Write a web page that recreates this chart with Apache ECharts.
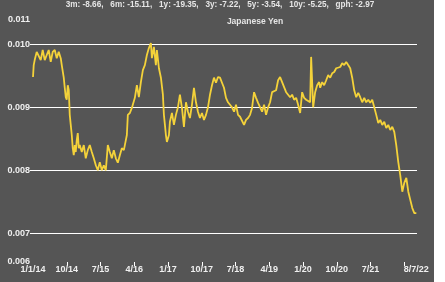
<!DOCTYPE html>
<html>
<head>
<meta charset="utf-8">
<script src="https://cdn.jsdelivr.net/npm/echarts@6/dist/echarts.min.js"></script>
<style>
html,body{margin:0;padding:0;background:#ffffff;}
#chart{width:445px;height:282px;}
</style>
</head>
<body>
<div id="chart"></div>
<script>
// Title texts
const statsLine = '3m: -8.66,   6m: -15.11,   1y: -19.35,   3y: -7.22,   5y: -3.54,   10y: -5.25,   gph: -2.97';
const seriesName = 'Japanese Yen';

// X tick labels (every 9 months from 1 Jan 2014; last tick labelled with final date)
const xTickLabels = ['1/1/14','10/14','7/15','4/16','1/17','10/17','7/18','4/19','1/20','10/20','7/21','8/7/22'];
const xTickMonths = [9,18,27,36,45,54,63,72,81,90,99];

// Y tick values and labels
const yTickValues = [0.007, 0.008, 0.009, 0.010];
const yMinLabel = '0.006';
const yMaxLabel = '0.011';

// Data: months since 1 Jan 2014, and JPY value in USD
const months = [0,0.19,0.45,0.99,1.52,2.06,2.59,3.13,3.66,4.19,4.73,5.26,5.80,6.33,6.86,7.40,7.67,8.20,8.47,8.74,9.00,9.27,9.54,9.80,10.07,10.34,10.60,10.87,11.14,11.40,11.67,11.94,12.21,12.47,13.01,13.54,14.07,14.61,15.14,15.68,16.21,16.75,17.28,17.81,18.35,18.88,19.42,19.95,20.49,21.02,21.55,22.09,22.62,23.16,23.69,24.23,24.76,25.03,25.29,25.83,26.36,27.16,27.70,28.23,28.77,29.30,29.83,30.37,30.90,31.44,31.71,32.24,32.77,33.04,33.58,34.11,34.64,34.91,35.18,35.44,35.71,36.25,36.51,37.05,37.58,38.11,38.65,39.18,39.72,40.25,40.79,41.32,41.85,42.39,42.92,43.46,43.99,44.52,45.06,45.59,46.13,46.66,47.20,47.73,48.26,48.80,49.33,49.87,50.40,50.93,51.47,52.00,52.54,53.07,53.61,54.14,54.67,55.21,55.74,56.28,56.81,57.35,57.88,58.41,58.95,59.48,60.02,60.55,61.09,61.62,62.15,62.69,63.22,63.76,64.29,64.83,65.36,65.89,66.43,66.96,67.50,68.03,68.56,69.10,69.63,70.17,70.70,71.24,71.77,72.30,72.84,73.37,73.91,74.17,74.71,75.24,75.77,76.31,76.58,77.11,77.64,78.18,78.71,79.25,79.78,80.32,80.85,81.38,81.92,82.45,82.99,83.52,84.05,84.59,85.12,85.66,86.19,86.73,87.26,87.79,88.33,88.86,89.40,89.93,90.46,91.00,91.53,92.07,92.60,93.14,93.67,94.20,94.74,95.27,95.81,96.34,96.87,97.41,97.94,98.48,99.01,99.55,100.08,100.61,101.15,101.68,102.22];
const values = [0.00948,0.00967,0.00975,0.00988,0.00988,0.00975,0.00991,0.00975,0.00983,0.00991,0.00972,0.00988,0.00991,0.00978,0.00988,0.00978,0.00967,0.00947,0.00931,0.00916,0.00912,0.00935,0.00927,0.00888,0.00872,0.00856,0.00835,0.00824,0.00840,0.00829,0.00848,0.00859,0.00835,0.00840,0.00829,0.00840,0.00819,0.00832,0.00840,0.00829,0.00819,0.00808,0.00800,0.00813,0.00800,0.00808,0.00800,0.00840,0.00829,0.00819,0.00832,0.00819,0.00812,0.00824,0.00835,0.00832,0.00848,0.00856,0.00888,0.00891,0.00899,0.00915,0.00935,0.00916,0.00940,0.00959,0.00967,0.00983,0.00994,0.01002,0.00978,0.00996,0.00967,0.00991,0.00962,0.00947,0.00920,0.00888,0.00872,0.00856,0.00845,0.00856,0.00877,0.00891,0.00872,0.00888,0.00900,0.00920,0.00899,0.00869,0.00908,0.00893,0.00883,0.00904,0.00931,0.00908,0.00893,0.00883,0.00891,0.00880,0.00888,0.00900,0.00920,0.00935,0.00947,0.00939,0.00948,0.00947,0.00939,0.00931,0.00915,0.00908,0.00904,0.00900,0.00893,0.00904,0.00888,0.00885,0.00883,0.00872,0.00880,0.00883,0.00888,0.00899,0.00924,0.00915,0.00907,0.00904,0.00893,0.00904,0.00888,0.00900,0.00908,0.00924,0.00927,0.00927,0.00943,0.00948,0.00940,0.00932,0.00924,0.00920,0.00916,0.00920,0.00912,0.00915,0.00904,0.00891,0.00924,0.00915,0.00912,0.00915,0.00908,0.00980,0.00900,0.00924,0.00935,0.00940,0.00931,0.00940,0.00935,0.00943,0.00951,0.00947,0.00954,0.00956,0.00962,0.00959,0.00964,0.00970,0.00967,0.00972,0.00967,0.00962,0.00947,0.00927,0.00916,0.00923,0.00916,0.00908,0.00915,0.00908,0.00912,0.00907,0.00912,0.00900,0.00888,0.00875,0.00880,0.00872,0.00877,0.00867,0.00872,0.00864,0.00869,0.00861,0.00840,0.00813,0.00792,0.00766,0.00780,0.00788,0.00766,0.00753,0.00740,0.00732,0.00732];

const yMin = 0.006544, yMax = 0.010386, xMax = 102.4;
const font = "'Liberation Sans',Arial,sans-serif";
const textColor = '#f0f0f0';
const titleColor = '#e6e6e6';

const chart = echarts.init(document.getElementById('chart'), null, {renderer: 'canvas'});
const lastIdx = xTickLabels.length - 1;
chart.setOption({
  backgroundColor: '#555555',
  animation: false,
  title: [
    {text: statsLine, left: 220, top: 0, padding: 0, textAlign: 'center',
     textStyle: {color: titleColor, fontSize: 8.2, fontWeight: 'bold', fontFamily: font, lineHeight: 10}},
    {text: seriesName, left: 255, top: 17, padding: 0, textAlign: 'center',
     textStyle: {color: titleColor, fontSize: 8.5, fontWeight: 'bold', fontFamily: font, lineHeight: 10}}
  ],
  graphic: [
    {type: 'rect', right: 0, top: 0, shape: {width: 11, height: 282}, style: {fill: '#ffffff'}, silent: true}
  ],
  grid: {left: 33, right: 28, top: 20, bottom: 20},
  xAxis: {
    type: 'value', min: 0, max: xMax, interval: 9,
    axisLine: {show: false},
    axisTick: {show: true, length: 4, lineStyle: {color: '#ffffff', width: 1}, customValues: xTickMonths},
    splitLine: {show: false},
    axisLabel: {
      color: textColor, fontSize: 9, fontWeight: 'bold', fontFamily: font, margin: 3,
      showMaxLabel: false,
      formatter: function (v) {
        const i = Math.round(v / 9);
        if (i === lastIdx) return '{last|' + xTickLabels[i] + '}';
        return xTickLabels[i] || '';
      },
      rich: {last: {color: textColor, fontSize: 9, fontWeight: 'bold', fontFamily: font, padding: [0, 0, 0, 24]}}
    }
  },
  yAxis: {
    type: 'value', min: yMin, max: yMax,
    axisLine: {show: false},
    axisTick: {show: true, length: 3, lineStyle: {color: '#ffffff'}, customValues: yTickValues},
    splitLine: {show: true, showMinLine: true, showMaxLine: true, lineStyle: {color: '#ffffff', width: 1}},
    axisLabel: {
      color: textColor, fontSize: 9, fontWeight: 'bold', fontFamily: font, margin: 3,
      customValues: [yMin].concat(yTickValues, [yMax]),
      formatter: function (v) {
        if (Math.abs(v - yMin) < 1e-7) return yMinLabel;
        if (Math.abs(v - yMax) < 1e-7) return yMaxLabel;
        return v.toFixed(3);
      }
    }
  },
  series: [{
    name: seriesName, type: 'line', showSymbol: false, symbol: 'none',
    data: months.map((m, i) => [m, values[i]]),
    lineStyle: {color: '#f4d23a', width: 1.8},
    z: 3
  }]
});
</script>
</body>
</html>
